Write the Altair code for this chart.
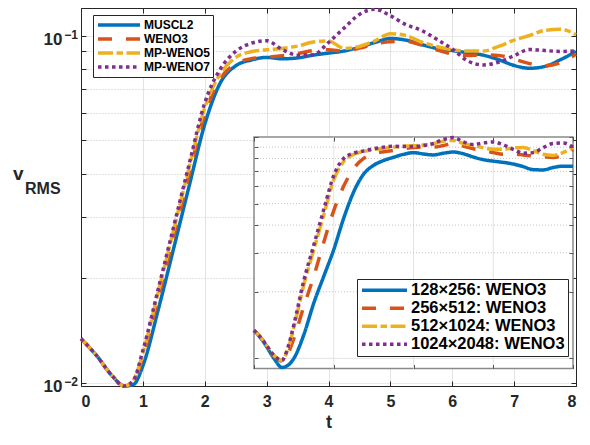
import altair as alt
import pandas as pd

# ---------------- data ----------------
t = [0, 0.25, 0.5, 0.7, 0.85, 1.0, 1.25, 1.5, 1.75, 2.0, 2.25, 2.5, 2.75, 3.0,
     3.25, 3.5, 3.75, 4.0, 4.25, 4.5, 4.75, 5.0, 5.25, 5.5, 5.75, 6.0, 6.25,
     6.5, 6.75, 7.0, 7.25, 7.5, 7.75, 8.0]

muscl2 = [0.0134, 0.0120, 0.0105, 0.0098, 0.0099, 0.0112, 0.0163, 0.0245, 0.0370,
          0.0555, 0.0730, 0.0818, 0.0850, 0.0865, 0.0857, 0.0862, 0.0878, 0.0890,
          0.0902, 0.0925, 0.0955, 0.0980, 0.0970, 0.0942, 0.0918, 0.0905, 0.0892,
          0.0878, 0.0852, 0.0820, 0.0805, 0.0815, 0.0852, 0.0900]
weno3 = [0.0134, 0.0120, 0.0105, 0.0098, 0.0101, 0.0119, 0.0176, 0.0265, 0.0400,
         0.0595, 0.0750, 0.0828, 0.0858, 0.0866, 0.0875, 0.0887, 0.0905, 0.0910,
         0.0902, 0.0920, 0.0945, 0.0960, 0.0962, 0.0940, 0.0910, 0.0885, 0.0876,
         0.0880, 0.0876, 0.0855, 0.0830, 0.0818, 0.0835, 0.0885]
mpweno5 = [0.0134, 0.0120, 0.0105, 0.0098, 0.0102, 0.0122, 0.0183, 0.0277, 0.0418,
           0.0620, 0.0775, 0.0865, 0.0898, 0.0910, 0.0918, 0.0932, 0.0958, 0.0965,
           0.0918, 0.0930, 0.0965, 0.1012, 0.1000, 0.0958, 0.0930, 0.0910, 0.0902,
           0.0902, 0.0930, 0.0970, 0.1000, 0.1035, 0.1042, 0.1005]
mpweno7 = [0.0134, 0.0120, 0.0105, 0.0098, 0.0102, 0.0124, 0.0187, 0.0283, 0.0428,
           0.0640, 0.0800, 0.0900, 0.0950, 0.0966, 0.0912, 0.0878, 0.0880, 0.0955,
           0.1050, 0.1150, 0.1190, 0.1140, 0.1075, 0.1035, 0.0975, 0.0915, 0.0845,
           0.0823, 0.0838, 0.0875, 0.0912, 0.0905, 0.0900, 0.0903]

r128 = [0.0134, 0.0118, 0.0100, 0.0091, 0.0093, 0.0100, 0.0128, 0.0178, 0.0235,
        0.0310, 0.0430, 0.0565, 0.0680, 0.0745, 0.0783, 0.0810, 0.0835, 0.0850,
        0.0838, 0.0830, 0.0845, 0.0855, 0.0840, 0.0812, 0.0790, 0.0778, 0.0768,
        0.0755, 0.0735, 0.0712, 0.0710, 0.0728, 0.0738, 0.0738]
r256 = [0.0134, 0.0119, 0.0103, 0.0097, 0.0105, 0.0123, 0.0172, 0.0235, 0.0335,
        0.0465, 0.0600, 0.0720, 0.0800, 0.0840, 0.0858, 0.0870, 0.0885, 0.0896,
        0.0902, 0.0900, 0.0915, 0.0935, 0.0910, 0.0885, 0.0868, 0.0850, 0.0835,
        0.0838, 0.0830, 0.0820, 0.0815, 0.0808, 0.0830, 0.0878]
r512 = [0.0134, 0.0119, 0.0103, 0.0098, 0.0110, 0.0138, 0.0215, 0.0310, 0.0445,
        0.0640, 0.0775, 0.0835, 0.0860, 0.0878, 0.0890, 0.0900, 0.0910, 0.0912,
        0.0920, 0.0932, 0.0958, 0.0965, 0.0935, 0.0915, 0.0895, 0.0880, 0.0880,
        0.0892, 0.0896, 0.0868, 0.0835, 0.0826, 0.0850, 0.0899]
r1024 = [0.0134, 0.0119, 0.0103, 0.0098, 0.0112, 0.0142, 0.0225, 0.0325, 0.0470,
         0.0670, 0.0800, 0.0845, 0.0865, 0.0885, 0.0900, 0.0908, 0.0905, 0.0905,
         0.0915, 0.0935, 0.0975, 0.0995, 0.0950, 0.0925, 0.0940, 0.0950, 0.0922,
         0.0880, 0.0845, 0.0850, 0.0895, 0.0935, 0.0940, 0.0900]

main_names = ["MUSCL2", "WENO3", "MP-WENO5", "MP-WENO7"]
inset_names = ["128\u00d7256: WENO3", "256\u00d7512: WENO3",
               "512\u00d71024: WENO3", "1024\u00d72048: WENO3"]
colors = ["#0072BD", "#D95319", "#EDB120", "#7E2F8E"]
dashes = [[1, 0], [14, 14], [15, 3.5, 6.5, 3.5], [3.5, 3.5]]

x_ticks = [0, 1, 2, 3, 4, 5, 6, 7, 8]
y_ticks = [0.01, 0.02, 0.03, 0.04, 0.05, 0.06, 0.07, 0.08, 0.09, 0.1]
y_label_values = [0.1, 0.01]
y_label_exponents = ["\u22121", "\u22122"]
inset_x_ticks = [0, 2, 4, 6, 8]
inset_grid_t = [2, 4, 6]
inset_grid_v = [0.01, 0.02, 0.03, 0.04, 0.05, 0.06, 0.07, 0.08, 0.09]

main_xdom = [0, 8]
main_ydom = [0.0098, 0.12]
inset_xdom = [0, 8]
inset_ydom = [0.009, 0.1]


def long(names, series):
    rows = []
    for k, (name, vals) in enumerate(zip(names, series)):
        for ti, v in zip(t, vals):
            rows.append({"t": ti, "v": v, "series": name, "k": k})
    return pd.DataFrame(rows)


main_df = long(main_names, [muscl2, weno3, mpweno5, mpweno7])
inset_df = long(inset_names, [r128, r256, r512, r1024])
sup_df = pd.DataFrame({"v": y_label_values, "sup": y_label_exponents})

# ---------------- layout ----------------
W, H = 495, 378
IX0, IX1 = 173, 492          # inset left / right (px in plot area)
IY_TOP, IY_BOT = 129, 360.5  # inset top / bottom
AX = "#262626"
FONT = "Liberation Sans"

x_main = alt.Scale(domain=main_xdom, nice=False, zero=False)
y_main = alt.Scale(type="log", domain=main_ydom, nice=False)
x_in = alt.Scale(domain=inset_xdom, range=[IX0, IX1], nice=False, zero=False)
y_in = alt.Scale(type="log", domain=inset_ydom, range=[IY_BOT, IY_TOP], nice=False)


def tick_axis(orient, offset, values, domain=False, color=AX, size=5, z=0):
    return alt.Axis(orient=orient, offset=offset, values=values, labels=False,
                    domain=domain, domainColor=AX, grid=False, ticks=True,
                    tickSize=size, tickColor=color, tickWidth=1, title=None,
                    zindex=z)


def legend(x, y, fs, path, soff, loff, pad, rowpad):
    return alt.Legend(title=None, orient="none", legendX=x, legendY=y,
                      symbolType=path, symbolSize=100, symbolStrokeWidth=3.5,
                      symbolOffset=soff, labelOffset=loff, labelFont=FONT,
                      labelFontSize=fs, labelFontWeight="bold", labelColor="black",
                      fillColor="white", strokeColor=AX, padding=pad,
                      rowPadding=rowpad, labelLimit=400)


# ---------------- main plot ----------------
leg_main = legend(12, 7, 12, "M-4.2,0H4.2", 16, 18, 3, 0)
main_lines = alt.Chart(main_df).mark_line(
    strokeWidth=3.5, interpolate="monotone", strokeCap="butt"
).encode(
    x=alt.X("t:Q", scale=x_main, axis=alt.Axis(
        orient="bottom", values=x_ticks, format="d", labelFont=FONT,
        labelFontSize=16, labelFontWeight="bold", labelColor=AX, labelPadding=7,
        ticks=False, domainColor=AX, grid=True, gridColor="#e3e3e3",
        title="t", titleFont=FONT, titleFontSize=18, titleFontWeight="bold",
        titleColor=AX, titlePadding=4)),
    y=alt.Y("v:Q", scale=y_main, axis=alt.Axis(
        orient="left", values=y_ticks,
        labelExpr="datum.value == 0.1 || datum.value == 0.01 ? '10' : ''",
        labelFont=FONT, labelFontSize=17, labelFontWeight="bold", labelColor=AX,
        labelPadding=19, labelOffset=4, ticks=False, domainColor=AX, grid=True,
        gridColor={"condition": {"test": "datum.value == 0.1 || datum.value == 0.01",
                                 "value": "#e3e3e3"}, "value": "#c4c4c4"},
        gridDash={"condition": {"test": "datum.value == 0.1 || datum.value == 0.01",
                                "value": [1, 0]}, "value": [1, 2]},
        title=None)),
    color=alt.Color("series:N", scale=alt.Scale(domain=main_names, range=colors),
                    legend=leg_main),
    strokeDash=alt.StrokeDash("series:N", scale=alt.Scale(domain=main_names, range=dashes),
                              legend=leg_main),
)

main_ticks_in = alt.Chart(main_df).mark_point(opacity=0).encode(
    x=alt.X("t:Q", scale=x_main, axis=tick_axis("top", -H, x_ticks)),
    y=alt.Y("v:Q", scale=y_main, axis=tick_axis("right", -W, y_ticks)),
)
main_ticks_box = alt.Chart(main_df).mark_point(opacity=0).encode(
    x=alt.X("t:Q", scale=x_main, axis=tick_axis("bottom", -H, x_ticks, domain=True)),
    y=alt.Y("v:Q", scale=y_main, axis=tick_axis("left", -W, y_ticks, domain=True)),
)
# exponents of the y tick labels (10^-1, 10^-2)
main_sup = alt.Chart(sup_df).mark_text(
    align="right", baseline="middle", font=FONT, fontSize=12, fontWeight="bold",
    color=AX, dy=-1
).encode(
    y=alt.Y("v:Q", scale=y_main, axis=None),
    x=alt.value(-3),
    text="sup:N",
)

main = alt.layer(main_lines, main_ticks_in, main_ticks_box, main_sup).resolve_axis(
    x="independent", y="independent")

# ---------------- inset ----------------
one = alt.Data(values=[{}])
IN_TICK = "#555555"
inset_rect = alt.Chart(one).mark_rect(
    fill="white", stroke="#8a8a8a", strokeWidth=1.5
).encode(
    x=alt.XDatum(inset_xdom[0], type="quantitative", scale=x_in,
                 axis=tick_axis("bottom", IY_TOP - H, inset_x_ticks, color=IN_TICK, size=4, z=1)),
    x2=alt.X2Datum(inset_xdom[1]),
    y=alt.YDatum(inset_ydom[0], type="quantitative", scale=y_in,
                 axis=tick_axis("right", IX0 - W, y_ticks, color=IN_TICK, size=4, z=1)),
    y2=alt.Y2Datum(inset_ydom[1]),
)
inset_gx = alt.Chart(pd.DataFrame({"t": inset_grid_t})).mark_rule(
    color="#e3e3e3", strokeWidth=1
).encode(
    x=alt.X("t:Q", scale=x_in, axis=None),
    y=alt.YDatum(inset_ydom[0], type="quantitative", scale=y_in, axis=None),
    y2=alt.Y2Datum(inset_ydom[1]),
)
inset_gy = alt.Chart(pd.DataFrame({"v": inset_grid_v})).mark_rule(
    strokeWidth=1
).encode(
    y=alt.Y("v:Q", scale=y_in, axis=None),
    x=alt.XDatum(inset_xdom[0], type="quantitative", scale=x_in, axis=None),
    x2=alt.X2Datum(inset_xdom[1]),
    color=alt.condition("datum.v == 0.01", alt.value("#e3e3e3"), alt.value("#c4c4c4")),
    strokeDash=alt.condition("datum.v == 0.01", alt.value([1, 0]), alt.value([1, 2])),
)
leg_in = legend(276, 271, 16.5, "M-4.5,0H4.5", 16.25, 18.25, 3, 1)
inset_lines = alt.Chart(inset_df).mark_line(
    strokeWidth=3.5, interpolate="monotone", strokeCap="butt"
).encode(
    x=alt.X("t:Q", scale=x_in,
            axis=tick_axis("top", -IY_BOT, inset_x_ticks, color=IN_TICK, size=4, z=1)),
    y=alt.Y("v:Q", scale=y_in,
            axis=tick_axis("left", -IX1, y_ticks, color=IN_TICK, size=4, z=1)),
    color=alt.Color("series:N", scale=alt.Scale(domain=inset_names, range=colors),
                    legend=leg_in),
    strokeDash=alt.StrokeDash("series:N", scale=alt.Scale(domain=inset_names, range=dashes),
                              legend=leg_in),
)
inset = alt.layer(inset_rect, inset_gx, inset_gy, inset_lines).resolve_axis(
    x="independent", y="independent")

# ---------------- y-axis title v_RMS ----------------
v_text = alt.Chart(one).mark_text(
    text="v", align="left", baseline="alphabetic", font=FONT, fontSize=19,
    fontWeight="bold", color=AX
).encode(x=alt.value(-68), y=alt.value(172))
rms_text = alt.Chart(one).mark_text(
    text="RMS", align="left", baseline="alphabetic", font=FONT, fontSize=16,
    fontWeight="bold", color=AX
).encode(x=alt.value(-56), y=alt.value(186))

chart = alt.layer(main, inset, v_text, rms_text).resolve_scale(
    x="independent", y="independent", color="independent", strokeDash="independent"
).properties(
    width=W, height=H,
    autosize=alt.AutoSizeParams(type="none"),
    padding={"left": 73, "top": 0, "right": 6, "bottom": 47},
).configure_view(stroke=None).configure(font=FONT)

chart.save("out.html", embed_options={"renderer": "svg", "actions": False})
